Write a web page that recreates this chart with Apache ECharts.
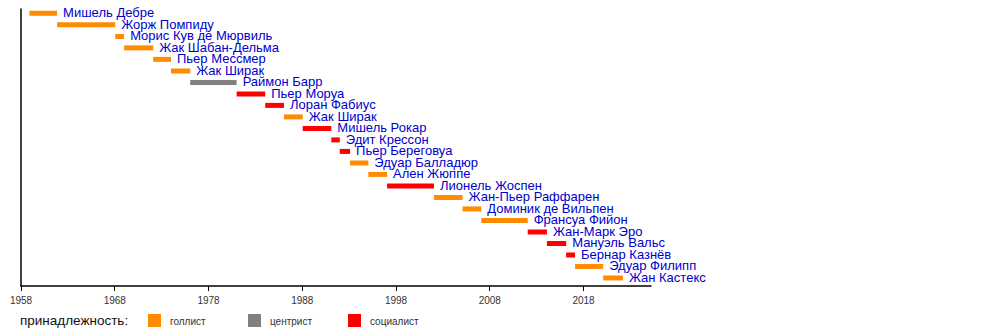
<!DOCTYPE html>
<html><head><meta charset="utf-8">
<script src="https://cdn.jsdelivr.net/npm/echarts@6/dist/echarts.min.js"></script>
<style>html,body{margin:0;padding:0;background:#fff}#c{width:1000px;height:336px}</style>
</head><body><div id="c"></div>
<script>
var names = ['Мишель Дебре','Жорж Помпиду','Морис Кув де Мюрвиль','Жак Шабан-Дельма','Пьер Мессмер','Жак Ширак','Раймон Барр','Пьер Моруа','Лоран Фабиус','Жак Ширак','Мишель Рокар','Эдит Крессон','Пьер Береговуа','Эдуар Балладюр','Ален Жюппе','Лионель Жоспен','Жан-Пьер Раффарен','Доминик де Вильпен','Франсуа Фийон','Жан-Марк Эро','Мануэль Вальс','Бернар Казнёв','Эдуар Филипп','Жан Кастекс'];
var starts = [1958.9,1961.85,1968.05,1969.0,1972.1,1974.0,1976.05,1981.0,1984.05,1986.05,1988.05,1991.1,1992.0,1993.1,1995.05,1997.05,2002.05,2005.1,2007.1,2012.05,2014.1,2016.15,2017.1,2020.1];
var ends   = [1961.85,1968.05,1969.0,1972.1,1974.0,1976.05,1981.0,1984.05,1986.05,1988.05,1991.1,1992.0,1993.1,1995.05,1997.05,2002.05,2005.1,2007.1,2012.05,2014.1,2016.15,2017.1,2020.1,2022.2];
var party  = ['g','g','g','g','g','g','c','s','s','g','s','s','s','g','g','s','g','g','g','s','s','s','g','g'];
var tickYears = [1958,1968,1978,1988,1998,2008,2018];
var partyKeys = ['g','c','s'];
var partyNames = ['голлист','центрист','социалист'];
var partyColors = {g:'#ff8c00', c:'#808080', s:'#ff0000'};
var legendTitle = 'принадлежность:';

var data = names.map(function(n,i){return [starts[i], ends[i], i, n, party[i]];});

var chart = echarts.init(document.getElementById('c'), null, {renderer:'svg'});

var graphics = [{type:'text', left:20, top:313, style:{text:legendTitle, font:'13.5px "Liberation Sans", Arial, sans-serif', fill:'#111'}}];
partyKeys.forEach(function(k,i){
  graphics.push({type:'rect', left:148+i*100, top:314, shape:{width:13,height:13}, style:{fill:partyColors[k]}});
  graphics.push({type:'text', left:170+i*100, top:316, style:{text:partyNames[i], font:'10px "Liberation Sans", Arial, sans-serif', fill:'#333'}});
});

chart.setOption({
  animation:false,
  grid:{left:21, top:9, width:630, height:277},
  xAxis:{type:'value', min:1958, max:2025.2,
    axisLine:{show:true, onZero:false, lineStyle:{color:'#000', width:1.5}},
    axisTick:{show:true, length:5, customValues:tickYears, lineStyle:{color:'#000'}},
    axisLabel:{customValues:tickYears, margin:9, color:'#333', fontSize:10, fontFamily:'"Liberation Sans", Arial, sans-serif',
      formatter:function(v){return String(Math.round(v));}},
    splitLine:{show:false}},
  yAxis:{type:'value', inverse:true, min:-0.38, max:23.7,
    axisLine:{show:true, onZero:false, lineStyle:{color:'#000', width:1.5}},
    axisTick:{show:false}, axisLabel:{show:false}, splitLine:{show:false}},
  series:[{
    type:'custom',
    data:data,
    encode:{x:[0,1], y:2},
    renderItem:function(params, api){
      var s = api.coord([api.value(0), api.value(2)]);
      var e = api.coord([api.value(1), api.value(2)]);
      var p = data[params.dataIndex][4];
      return {type:'group', children:[
        {type:'rect', shape:{x:s[0], y:s[1]-2.5, width:e[0]-s[0], height:5}, style:{fill:partyColors[p]}},
        {type:'text', x:e[0]+6, y:s[1]-0.5, style:{text:data[params.dataIndex][3], font:'13px "Liberation Sans", Arial, sans-serif', fill:'#0000cc', verticalAlign:'middle', align:'left'}}
      ]};
    }
  }],
  graphic:graphics
});
</script></body></html>
